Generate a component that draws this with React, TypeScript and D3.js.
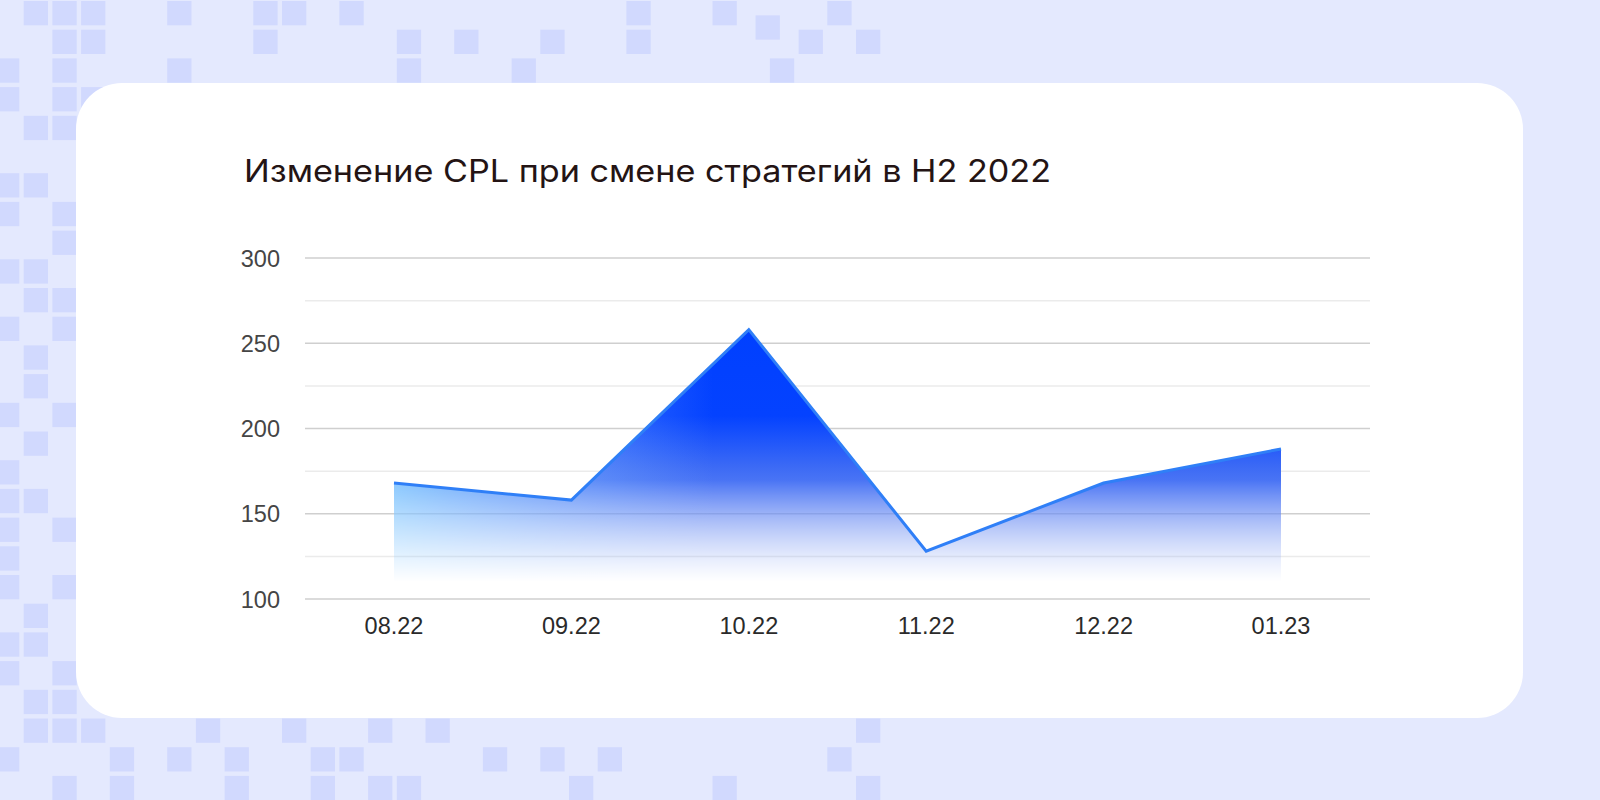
import * as d3 from 'd3';
import { useEffect, useRef } from 'react';

// chart data
const months = ['08.22', '09.22', '10.22', '11.22', '12.22', '01.23'];
const cpl = [168, 158, 258, 128, 168, 188];
const yTicks = [100, 150, 200, 250, 300];
const yMinorTicks = [125, 175, 225, 275];
const title = 'Изменение CPL при смене стратегий в H2 2022';

// decorative background squares, [column, row] on the tile grid
const bgSquares: [number, number][] = [
  [1, 0], [2, 0], [3, 0], [6, 0], [9, 0], [10, 0], [12, 0], [22, 0], [25, 0], [29, 0], [26.5, 0.5],
  [2, 1], [3, 1], [9, 1], [14, 1], [16, 1], [19, 1], [22, 1], [28, 1], [30, 1],
  [0, 2], [2, 2], [6, 2], [14, 2], [18, 2], [27, 2],
  [0, 3], [2, 3], [3, 3],
  [1, 4], [2, 4],
  [0, 6], [1, 6],
  [0, 7], [2, 7],
  [2, 8],
  [0, 9], [1, 9],
  [1, 10], [2, 10],
  [0, 11], [2, 11],
  [1, 12],
  [1, 13],
  [0, 14], [2, 14],
  [1, 15],
  [0, 16],
  [0, 17], [1, 17],
  [0, 18], [2, 18],
  [0, 19],
  [0, 20], [2, 20],
  [1, 21],
  [0, 22], [1, 22],
  [0, 23], [2, 23],
  [1, 24], [2, 24],
  [1, 25], [2, 25], [3, 25], [7, 25], [10, 25], [13, 25], [15, 25], [30, 25],
  [0, 26], [4, 26], [6, 26], [8, 26], [11, 26], [12, 26], [17, 26], [19, 26], [21, 26], [29, 26],
  [2, 27], [4, 27], [8, 27], [11, 27], [13, 27], [14, 27], [20, 27], [25, 27], [30, 27],
];

export default function App() {
  const svgRef = useRef<SVGSVGElement | null>(null);

  useEffect(() => {
    const width = 1600;
    const height = 800;
    const svg = d3.select(svgRef.current);
    svg.selectAll('*').remove();

    // background + tiles
    svg.append('rect').attr('width', width).attr('height', height).attr('fill', '#e4e9fe');
    const pitch = 28.7;
    svg.append('g')
      .selectAll('rect')
      .data(bgSquares)
      .enter()
      .append('rect')
      .attr('x', (d) => -5 + d[0] * pitch)
      .attr('y', (d) => 1 + d[1] * pitch)
      .attr('width', 24.3)
      .attr('height', 24.3)
      .attr('fill', '#d1d9fe');

    // card
    svg.append('rect')
      .attr('x', 76).attr('y', 83)
      .attr('width', 1447).attr('height', 635)
      .attr('rx', 46).attr('ry', 46)
      .attr('fill', '#ffffff');

    svg.append('text')
      .attr('x', 244)
      .attr('y', 182)
      .attr('font-family', 'Inter, "Noto Sans", sans-serif')
      .attr('font-weight', 400)
      .attr('font-size', 31)
      .attr('fill', '#241414')
      .attr('textLength', 807)
      .attr('lengthAdjust', 'spacingAndGlyphs')
      .text(title);

    const x = d3.scalePoint<string>().domain(months).range([394, 1281]);
    const y = d3.scaleLinear().domain([100, 300]).range([599, 258]);
    const gridLeft = 305;
    const gridRight = 1370;

    // gridlines
    const grid = svg.append('g');
    grid.selectAll('.minor')
      .data(yMinorTicks)
      .enter()
      .append('line')
      .attr('x1', gridLeft).attr('x2', gridRight)
      .attr('y1', (d) => y(d)).attr('y2', (d) => y(d))
      .attr('stroke', '#ebebeb')
      .attr('stroke-width', 1.5);
    grid.selectAll('.major')
      .data(yTicks)
      .enter()
      .append('line')
      .attr('x1', gridLeft).attr('x2', gridRight)
      .attr('y1', (d) => y(d)).attr('y2', (d) => y(d))
      .attr('stroke', '#cfcfcf')
      .attr('stroke-width', 1.5);

    const labelFont = '"Liberation Sans", Arial, sans-serif';
    svg.append('g')
      .selectAll('text')
      .data(yTicks)
      .enter()
      .append('text')
      .attr('x', 280)
      .attr('y', (d) => y(d) + 8.5)
      .attr('text-anchor', 'end')
      .attr('font-family', labelFont)
      .attr('font-size', 23.5)
      .attr('fill', '#454545')
      .text((d) => d);

    svg.append('g')
      .selectAll('text')
      .data(months)
      .enter()
      .append('text')
      .attr('x', (d) => x(d) as number)
      .attr('y', 634)
      .attr('text-anchor', 'middle')
      .attr('font-family', labelFont)
      .attr('font-size', 23.5)
      .attr('fill', '#2a2a2a')
      .text((d) => d);

    // gradients
    const defs = svg.append('defs');
    const vGrad = defs.append('linearGradient')
      .attr('id', 'areaV')
      .attr('gradientUnits', 'userSpaceOnUse')
      .attr('x1', 0).attr('x2', 0)
      .attr('y1', y(260)).attr('y2', y(110));
    [
      [0, '#0040ff'],
      [0.35, '#0442ff'],
      [0.55, '#3c6af5'],
      [0.8, '#7a98f3'],
      [1, '#a8bcf6'],
    ].forEach(([o, c]) => vGrad.append('stop').attr('offset', o as number).attr('stop-color', c as string));

    const hGrad = defs.append('linearGradient')
      .attr('id', 'areaH')
      .attr('gradientUnits', 'userSpaceOnUse')
      .attr('y1', 0).attr('y2', 0)
      .attr('x1', x(months[0]) as number)
      .attr('x2', x(months[2]) as number);
    hGrad.append('stop').attr('offset', 0).attr('stop-color', '#8ed0ff').attr('stop-opacity', 0.9);
    hGrad.append('stop').attr('offset', 0.45).attr('stop-color', '#88c0ff').attr('stop-opacity', 0.45);
    hGrad.append('stop').attr('offset', 0.9).attr('stop-color', '#80b0ff').attr('stop-opacity', 0);

    const fadeGrad = defs.append('linearGradient')
      .attr('id', 'fade')
      .attr('gradientUnits', 'userSpaceOnUse')
      .attr('x1', 0).attr('x2', 0)
      .attr('y1', 480).attr('y2', 582);
    fadeGrad.append('stop').attr('offset', 0).attr('stop-color', '#fff');
    fadeGrad.append('stop').attr('offset', 1).attr('stop-color', '#000');

    defs.append('mask')
      .attr('id', 'areaMask')
      .attr('maskUnits', 'userSpaceOnUse')
      .attr('x', 0).attr('y', 0).attr('width', width).attr('height', height)
      .append('rect')
      .attr('x', 0).attr('y', 0).attr('width', width).attr('height', height)
      .attr('fill', 'url(#fade)');

    const points = months.map((m, i) => ({ m, v: cpl[i] }));
    const area = d3.area<{ m: string; v: number }>()
      .x((d) => x(d.m) as number)
      .y0(y(100))
      .y1((d) => y(d.v));
    const line = d3.line<{ m: string; v: number }>()
      .x((d) => x(d.m) as number)
      .y((d) => y(d.v));

    const areaG = svg.append('g').attr('mask', 'url(#areaMask)');
    areaG.append('path').datum(points).attr('d', area).attr('fill', 'url(#areaV)');
    areaG.append('path').datum(points).attr('d', area).attr('fill', 'url(#areaH)');

    svg.append('path')
      .datum(points)
      .attr('d', line)
      .attr('fill', 'none')
      .attr('stroke', '#2f7ff7')
      .attr('stroke-width', 3)
      .attr('stroke-linejoin', 'miter');
  }, []);

  return (
    <svg
      ref={svgRef}
      width={1600}
      height={800}
      style={{ position: 'fixed', left: 0, top: 0, display: 'block' }}
    />
  );
}
